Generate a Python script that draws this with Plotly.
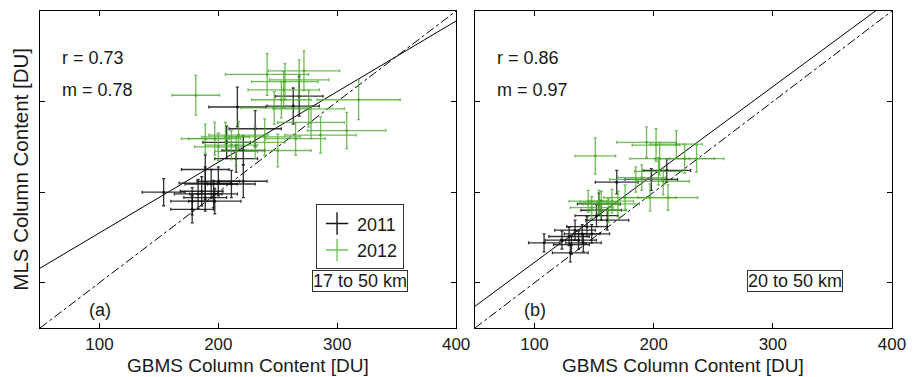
import plotly.graph_objects as go

# ---------------- data ----------------
# Panel (a): 17 to 50 km
a11_x = [216, 268, 263, 231, 207, 221, 215, 189, 154, 178, 189, 200, 194, 183, 189, 196, 221, 178, 186, 211, 197]
a11_y = [294, 306, 295, 270, 255, 246, 237, 225, 200, 181, 210, 212, 209, 198, 194, 198, 212, 190, 201, 209, 190]
a11_xe = [24, 20, 22, 22, 20, 18, 18, 20, 18, 18, 22, 18, 22, 20, 18, 20, 20, 18, 18, 20, 22]
a11_ye = [22, 22, 20, 20, 18, 16, 15, 16, 15, 15, 18, 16, 16, 16, 15, 15, 18, 15, 16, 15, 14]

a12_x = [181, 241, 272, 256, 253, 268, 318, 276, 247, 308, 286, 265, 250, 197, 206, 217, 211, 200, 231, 215, 189, 239, 278, 255]
a12_y = [307, 330, 334, 322, 302, 324, 302, 292, 293, 268, 263, 259, 246, 259, 261, 263, 252, 250, 255, 245, 259, 261, 277, 313]
a12_xe = [20, 35, 30, 28, 25, 25, 35, 30, 28, 33, 30, 25, 28, 22, 20, 25, 22, 20, 25, 18, 20, 30, 28, 30]
a12_ye = [22, 23, 22, 20, 20, 22, 22, 20, 18, 20, 20, 18, 18, 18, 16, 15, 16, 15, 18, 16, 16, 20, 18, 20]

# Panel (b): 20 to 50 km
b11_x = [169, 198, 211, 154, 152, 161, 108, 130, 134, 140, 129, 137, 144, 131, 141, 148, 123, 156]
b11_y = [211, 214, 224, 187, 174, 169, 144, 133, 158, 154, 151, 147, 162, 142, 144, 154, 147, 180]
b11_xe = [18, 22, 20, 18, 18, 18, 13, 15, 17, 15, 17, 15, 17, 15, 15, 15, 14, 17]
b11_ye = [13, 12, 13, 12, 12, 11, 10, 10, 11, 10, 10, 10, 11, 10, 10, 10, 10, 11]

b12_x = [151, 194, 202, 219, 226, 236, 205, 190, 208, 212, 197, 176, 165, 156, 148, 162, 154, 170, 204, 185, 145]
b12_y = [240, 255, 252, 253, 237, 237, 237, 216, 212, 194, 194, 194, 190, 187, 183, 180, 189, 187, 223, 214, 190]
b12_xe = [17, 25, 20, 22, 25, 23, 25, 20, 22, 25, 22, 18, 18, 15, 18, 15, 16, 18, 20, 22, 16]
b12_ye = [20, 17, 18, 15, 16, 15, 18, 14, 15, 14, 15, 14, 13, 14, 12, 13, 13, 14, 15, 14, 12]

# fit parameters and stats
fit_a = (0.78, 77.0)
fit_b = (0.97, 25.5)
stats_a = ["r = 0.73", "m = 0.78"]
stats_b = ["r = 0.86", "m = 0.97"]
line_x = [50, 400]
tick_vals = [100, 200, 300, 400]
y_tick_vals = [100, 200, 300]

BLACK = "rgba(15,15,15,0.85)"
GREEN = "rgba(72,172,40,0.78)"
FONT = "Liberation Sans, Arial, sans-serif"

fig = go.Figure()


def add_points(xs, ys, xe, ye, color, xa, ya):
    fig.add_trace(go.Scatter(
        x=xs, y=ys, mode="markers", xaxis=xa, yaxis=ya, showlegend=False,
        marker=dict(size=3, color=color),
        error_x=dict(type="data", array=xe, color=color, thickness=1.3, width=1.5),
        error_y=dict(type="data", array=ye, color=color, thickness=1.3, width=1.5),
        hoverinfo="x+y"))


def add_lines(fit, xa, ya):
    m, b = fit
    fig.add_trace(go.Scatter(x=line_x, y=line_x, mode="lines", xaxis=xa, yaxis=ya,
                             line=dict(color="black", width=1, dash="dashdot"),
                             showlegend=False, hoverinfo="skip"))
    fig.add_trace(go.Scatter(x=line_x, y=[m * v + b for v in line_x], mode="lines",
                             xaxis=xa, yaxis=ya, line=dict(color="black", width=1),
                             showlegend=False, hoverinfo="skip"))


add_lines(fit_a, "x", "y")
add_points(a11_x, a11_y, a11_xe, a11_ye, BLACK, "x", "y")
add_points(a12_x, a12_y, a12_xe, a12_ye, GREEN, "x", "y")

add_lines(fit_b, "x2", "y2")
add_points(b11_x, b11_y, b11_xe, b11_ye, BLACK, "x2", "y2")
add_points(b12_x, b12_y, b12_xe, b12_ye, GREEN, "x2", "y2")

# legend-only traces
for name, col in [("2011", "rgb(20,20,20)"), ("2012", "rgb(110,200,90)")]:
    fig.add_trace(go.Scatter(x=[None], y=[None], mode="markers", name=name,
                             xaxis="x", yaxis="y",
                             marker=dict(symbol="cross-thin-open", size=18, color=col,
                                         line=dict(width=1.4, color=col))))

axis_common = dict(range=[50, 400], showline=True, linecolor="black", linewidth=1.3,
                   mirror="ticks", ticks="inside", ticklen=5, tickcolor="black",
                   showgrid=False, zeroline=False)

fig.update_layout(
    width=916, height=377,
    margin=dict(l=40, r=16, t=10, b=49),
    plot_bgcolor="white", paper_bgcolor="white",
    font=dict(family=FONT, size=18, color="#1a1a1a"),
    xaxis=dict(domain=[0, 0.4884], anchor="y", tickvals=tick_vals,
               tickfont=dict(size=17), **axis_common),
    yaxis=dict(domain=[0, 1], anchor="x", tickvals=y_tick_vals, showticklabels=False,
               **axis_common),
    xaxis2=dict(domain=[0.5105, 1], anchor="y2", tickvals=tick_vals,
                tickfont=dict(size=17), **axis_common),
    yaxis2=dict(domain=[0, 1], anchor="x2", tickvals=y_tick_vals, showticklabels=False,
                **axis_common),
    legend=dict(x=0.324, y=0.39, xanchor="left", yanchor="top",
                bordercolor="#333", borderwidth=1, bgcolor="white",
                font=dict(size=18), tracegroupgap=0, itemwidth=30),
)

ann = []
for xa, ya, stats, tag, rng in [("x", "y", stats_a, "(a)", "17 to 50 km"),
                                ("x2", "y2", stats_b, "(b)", "20 to 50 km")]:
    xd, yd = xa + " domain", ya + " domain"
    ann.append(dict(xref=xd, yref=yd, x=0.048, y=0.851, text=stats[0], showarrow=False,
                    xanchor="left", yanchor="middle", font=dict(size=18)))
    ann.append(dict(xref=xd, yref=yd, x=0.048, y=0.752, text=stats[1], showarrow=False,
                    xanchor="left", yanchor="middle", font=dict(size=18)))
    ann.append(dict(xref=xd, yref=yd, x=0.114, y=0.056, text=tag, showarrow=False,
                    xanchor="left", yanchor="middle", font=dict(size=18)))
    ann.append(dict(xref=xd, yref=yd, x=0.768, y=0.149, text=rng, showarrow=False,
                    xanchor="center", yanchor="middle", font=dict(size=18),
                    bordercolor="#333", borderwidth=1, borderpad=0, bgcolor="white"))
    ann.append(dict(xref=xd, yref="paper", x=0.5, y=-0.0818,
                    text="GBMS Column Content [DU]", showarrow=False, borderpad=0,
                    xanchor="center", yanchor="top", font=dict(size=19)))

ann.append(dict(xref="paper", yref="paper", x=-0.0233, y=0.5, text="MLS Column Content [DU]",
                textangle=-90, showarrow=False, xanchor="center", yanchor="middle",
                font=dict(size=20.5)))
fig.update_layout(annotations=ann)

fig.write_html("out.html")
